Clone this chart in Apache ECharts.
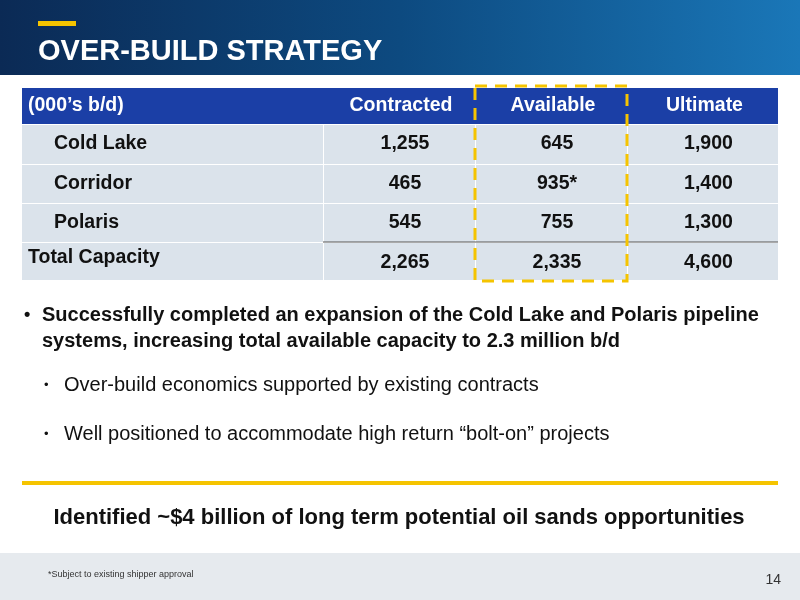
<!DOCTYPE html>
<html><head><meta charset="utf-8">
<script src="https://cdn.jsdelivr.net/npm/echarts@6/dist/echarts.min.js"></script>
<style>html,body{margin:0;padding:0;background:#fff}#main{width:800px;height:600px}</style>
</head><body><div id="main"></div>
<script>
// table data
var columns = ['Contracted', 'Available', 'Ultimate'];
var rowNames = ['Cold Lake', 'Corridor', 'Polaris', 'Total Capacity'];
var contracted = ['1,255', '465', '545', '2,265'];
var available = ['645', '935*', '755', '2,335'];
var ultimate = ['1,900', '1,400', '1,300', '4,600'];
var bullets = [
  'Successfully completed an expansion of the Cold Lake and Polaris pipeline',
  'systems, increasing total available capacity to 2.3 million b/d'
];
var subBullets = [
  'Over-build economics supported by existing contracts',
  'Well positioned to accommodate high return \u201cbolt-on\u201d projects'
];

var chart = echarts.init(document.getElementById('main'));
var F = 'Liberation Sans, Arial, sans-serif';
var g = [];

// header band
g.push({type: 'rect', shape: {x: 0, y: 0, width: 800, height: 75},
  style: {fill: new echarts.graphic.LinearGradient(0, 0, 1, 0, [
    {offset: 0, color: '#0b2a55'}, {offset: 0.5, color: '#0d4a80'}, {offset: 1, color: '#1a77b8'}])}});
g.push({type: 'rect', shape: {x: 38, y: 21, width: 38, height: 5}, style: {fill: '#f5c400'}});
g.push({type: 'text', x: 38, y: 52, style: {text: 'OVER-BUILD STRATEGY', fill: '#fff',
  font: 'bold 29px ' + F, verticalAlign: 'middle'}});

// table
var colX = [22, 323, 475, 627, 778];
var rowY = [88, 124, 164, 203, 242, 280];
var tf = 'bold 19.5px ' + F;
g.push({type: 'rect', shape: {x: 22, y: 88, width: 756, height: 36}, style: {fill: '#1b3fa6'}});
g.push({type: 'text', x: 28, y: 106, style: {text: '(000\u2019s b/d)', fill: '#fff', font: tf, verticalAlign: 'middle'}});
columns.forEach(function (c, i) {
  g.push({type: 'text', x: (colX[i + 1] + colX[i + 2]) / 2 + 2, y: 106,
    style: {text: c, fill: '#fff', font: tf, align: 'center', verticalAlign: 'middle'}});
});
var cols = [contracted, available, ultimate];
rowNames.forEach(function (name, r) {
  var y0 = rowY[r + 1], y1 = rowY[r + 2];
  for (var c = 0; c < 4; c++) {
    g.push({type: 'rect', shape: {x: colX[c] + (c ? 1 : 0), y: y0 + 1, width: colX[c + 1] - colX[c] - (c ? 1 : 0), height: y1 - y0 - 1},
      style: {fill: '#dbe3eb'}});
  }
  var last = r === rowNames.length - 1;
  g.push({type: 'text', x: last ? 28 : 54, y: last ? y0 + 16 : (y0 + y1) / 2,
    style: {text: name, fill: '#111', font: tf, verticalAlign: 'middle'}});
  cols.forEach(function (arr, i) {
    g.push({type: 'text', x: (colX[i + 1] + colX[i + 2]) / 2 + 6, y: (y0 + y1) / 2 + (last ? 2 : 0),
      style: {text: arr[r], fill: '#111', font: tf, align: 'center', verticalAlign: 'middle'}});
  });
});
g.push({type: 'line', shape: {x1: 323, y1: 242, x2: 778, y2: 242}, style: {stroke: '#555', lineWidth: 1}});
g.push({type: 'rect', shape: {x: 475, y: 86, width: 152, height: 195},
  style: {fill: null, stroke: '#f5c400', lineWidth: 3, lineDash: [12, 8]}});

// bullets
g.push({type: 'text', x: 24, y: 315, style: {text: '\u2022', fill: '#111', font: 'bold 18px ' + F, verticalAlign: 'middle'}});
bullets.forEach(function (b, i) {
  g.push({type: 'text', x: 42, y: 315 + i * 26, style: {text: b, fill: '#111', font: 'bold 20px ' + F, verticalAlign: 'middle'}});
});
subBullets.forEach(function (b, i) {
  var y = 385 + i * 49;
  g.push({type: 'text', x: 44, y: y, style: {text: '\u2022', fill: '#111', font: '13px ' + F, verticalAlign: 'middle'}});
  g.push({type: 'text', x: 64, y: y, style: {text: b, fill: '#111', font: '20px ' + F, verticalAlign: 'middle'}});
});
g.push({type: 'rect', shape: {x: 22, y: 481, width: 756, height: 4}, style: {fill: '#f5c400'}});
g.push({type: 'text', x: 399, y: 518, style: {text: 'Identified ~$4 billion of long term potential oil sands opportunities',
  fill: '#111', font: 'bold 22px ' + F, align: 'center', verticalAlign: 'middle'}});

// footer
g.push({type: 'rect', shape: {x: 0, y: 553, width: 800, height: 47}, style: {fill: '#e6eaee'}});
g.push({type: 'text', x: 48, y: 575, style: {text: '*Subject to existing shipper approval', fill: '#333', font: '9px ' + F, verticalAlign: 'middle'}});
g.push({type: 'text', x: 781, y: 580, style: {text: '14', fill: '#333', font: '14px ' + F, align: 'right', verticalAlign: 'middle'}});

chart.setOption({animation: false, graphic: g});
</script></body></html>
